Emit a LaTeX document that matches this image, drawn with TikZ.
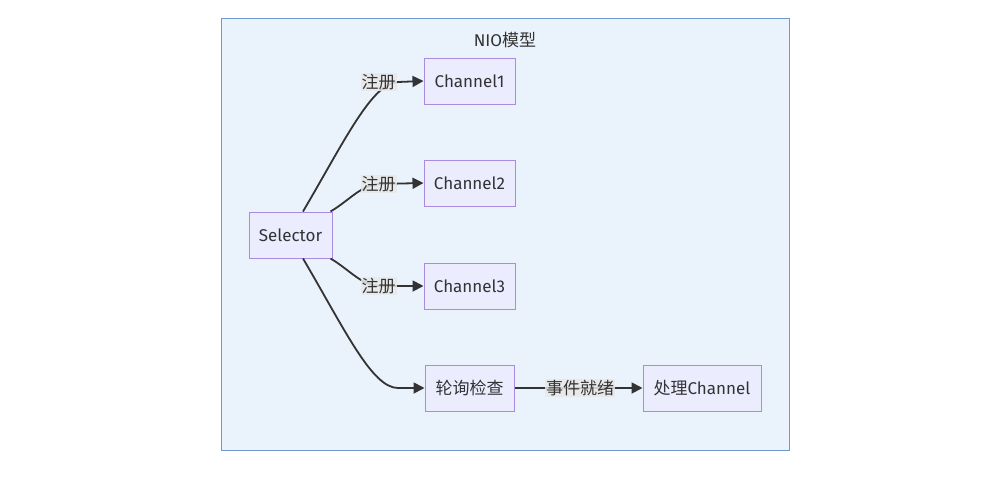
\documentclass[tikz,border=0pt]{standalone}
\usepackage{fontspec}
\setmainfont{Fira Sans}
\newfontfamily\cjk{Noto Sans CJK SC}
\usetikzlibrary{arrows.meta}
\definecolor{nodefill}{HTML}{ECECFF}
\definecolor{nodeline}{HTML}{A98BE0}
\definecolor{clfill}{HTML}{EAF2FB}
\definecolor{clline}{HTML}{6F99CC}
\definecolor{txt}{HTML}{333333}
\definecolor{lblbg}{HTML}{E8E8E8}
\tikzset{
  box/.style={draw=nodeline, fill=nodefill, line width=1pt, minimum height=46pt, inner sep=0pt, text=txt, font=\fontsize{17}{20}\selectfont},
  lbl/.style={fill=lblbg, fill opacity=0.85, text opacity=1, text=txt, inner sep=1pt, font=\fontsize{17}{20}\selectfont},
  edge/.style={draw=txt, line width=1.8pt, -{Triangle[length=11pt,width=11pt]}},
}
\begin{document}
\begin{tikzpicture}[x=1pt,y=-1pt]
\useasboundingbox (0,0) rectangle (987,480);
\fill[white] (0,0) rectangle (987,480);
\node[draw=clline, fill=clfill, line width=1pt, minimum width=568pt, minimum height=432pt, inner sep=0pt] (cluster) at (505,234) {};
\node[text=txt, font=\fontsize{17}{20}\selectfont] (title) at (505,40) {NIO{\cjk 模型}};
\node[box, minimum width=83pt] (sel) at (290.5,235) {Selector};
\node[box, minimum width=91pt] (c1) at (469.5,81) {Channel1};
\node[box, minimum width=91pt] (c2) at (469.5,183) {Channel2};
\node[box, minimum width=91pt] (c3) at (469.5,286) {Channel3};
\node[box, minimum width=89pt] (poll) at (469.5,388) {\cjk 轮询检查};
\node[box, minimum width=118pt] (proc) at (702,388) {{\cjk 处理}Channel};
\draw[edge] ([xshift=12.5pt]sel.north) .. controls (345,140) and (372,83) .. (398,82) -- (c1.west);
\draw[edge] ([xshift=-2pt]sel.north east) .. controls (350,200) and (362,184) .. (380,184) -- (c2.west);
\draw[edge] ([xshift=-2pt]sel.south east) .. controls (350,270) and (362,286) .. (380,286) -- (c3.west);
\draw[edge] ([xshift=12.5pt]sel.south) .. controls (345,330) and (372,388) .. (398,388) -- (poll.west);
\draw[edge] (poll.east) -- (proc.west);
\node[lbl] (l1) at (378.5,82) {\cjk 注册};
\node[lbl] (l2) at (378.5,184) {\cjk 注册};
\node[lbl] (l3) at (378.5,286) {\cjk 注册};
\node[lbl] (l4) at (580,388) {\cjk 事件就绪};
\end{tikzpicture}
\end{document}
